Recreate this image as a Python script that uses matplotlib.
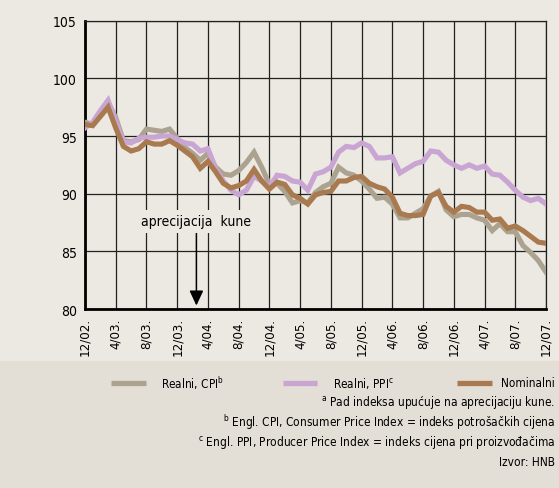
import numpy as np
import matplotlib.pyplot as plt
from matplotlib.lines import Line2D
from matplotlib.patches import Rectangle

# monthly index values, 12/2002 - 12/2007
nominal = [96.0, 95.9, 96.7, 97.5, 95.7, 94.1, 93.7, 93.9, 94.5, 94.3,
           94.3, 94.6, 94.2, 93.7, 93.2, 92.2, 92.8, 91.9, 90.9, 90.5,
           90.7, 91.1, 92.1, 91.1, 90.4, 91.0, 90.8, 89.9, 89.6, 89.1,
           89.9, 90.1, 90.2, 91.1, 91.1, 91.4, 91.5, 90.9, 90.6, 90.4,
           89.7, 88.3, 88.1, 88.1, 88.2, 89.8, 90.1, 88.9, 88.4, 88.9,
           88.8, 88.4, 88.4, 87.7, 87.8, 87.0, 87.2, 86.8, 86.3, 85.8,
           85.7]
real_cpi = [96.2, 96.0, 97.0, 97.9, 96.6, 94.6, 94.5, 94.7, 95.6, 95.5,
            95.4, 95.6, 94.8, 94.0, 93.5, 92.9, 93.5, 92.3, 91.7, 91.6,
            92.0, 92.7, 93.6, 92.3, 90.8, 90.9, 90.2, 89.2, 89.4, 89.2,
            90.1, 90.6, 90.9, 92.3, 91.8, 91.6, 91.1, 90.4, 89.6, 89.7,
            89.1, 87.9, 87.9, 88.3, 88.7, 89.8, 90.2, 88.6, 88.0, 88.2,
            88.2, 87.9, 87.7, 86.8, 87.4, 86.7, 86.7, 85.5, 84.9, 84.2,
            83.2]
real_ppi = [95.7, 96.2, 97.2, 98.1, 96.3, 94.5, 94.4, 94.8, 94.9, 94.9,
            95.0, 95.0, 94.7, 94.4, 94.3, 93.7, 93.9, 92.2, 91.1, 90.3,
            89.9, 90.3, 91.5, 91.1, 90.6, 91.6, 91.5, 91.1, 91.0, 90.3,
            91.7, 91.9, 92.3, 93.6, 94.1, 94.0, 94.4, 94.1, 93.1, 93.1,
            93.2, 91.8, 92.2, 92.6, 92.8, 93.7, 93.6, 92.9, 92.5, 92.2,
            92.5, 92.2, 92.4, 91.7, 91.6, 91.0, 90.3, 89.7, 89.4, 89.6,
            89.1]
tick_labels = ['12/02.', '4/03.', '8/03.', '12/03.', '4/04.', '8/04.',
               '12/04.', '4/05.', '8/05.', '12/05.', '4/06.', '8/06.',
               '12/06.', '4/07.', '8/07.', '12/07.']
series_names = ['Realni, CPI$^\\mathrm{b}$', 'Realni, PPI$^\\mathrm{c}$', 'Nominalni']

c_cpi = '#aca290'
c_ppi = '#c9a5d3'
c_nom = '#a97a4f'
bg = '#ece8e2'
band = '#e3ded6'

plt.rcParams['font.family'] = ['DejaVu Sans']
plt.rcParams['font.stretch'] = 'condensed'
plt.rcParams['mathtext.fontset'] = 'dejavusans'

W, H = 559, 489
fig = plt.figure(figsize=(W / 100, H / 100), dpi=100, facecolor=bg)


def fx(px):
    return px / W


def fy(py):
    return 1 - py / H


# darker band behind the legend and notes
fig.patches.append(Rectangle((0, 0), 1, fy(362), transform=fig.transFigure,
                             facecolor=band, edgecolor='none', zorder=0))

ax = fig.add_axes([fx(85), fy(310), fx(546) - fx(85), fy(21.7) - fy(310)])
ax.set_facecolor(bg)

months = np.arange(len(nominal))
lw = 3.7
ax.plot(months, real_cpi, color=c_cpi, lw=lw, solid_joinstyle='miter', zorder=3)
ax.plot(months, real_ppi, color=c_ppi, lw=lw, solid_joinstyle='miter', zorder=3)
ax.plot(months, nominal, color=c_nom, lw=lw, solid_joinstyle='miter', zorder=3)

ax.set_xlim(0, 60)
ax.set_ylim(80, 105)
ax.set_xticks(np.arange(0, 61, 4))
ax.set_xticklabels(tick_labels, rotation=90, fontsize=9.5)
ax.set_yticks(np.arange(80, 106, 5))
ax.set_yticklabels([str(v) for v in range(80, 106, 5)], fontsize=10)
ax.tick_params(length=0, pad=6)
ax.grid(True, color='#222222', lw=0.9)
ax.set_axisbelow(True)
for side in ['top', 'right']:
    ax.spines[side].set_linewidth(0.9)
    ax.spines[side].set_color('#222222')
for side in ['left', 'bottom']:
    ax.spines[side].set_linewidth(2)
    ax.spines[side].set_color('black')

# annotation
ax.annotate('', xy=(14.5, 80.3), xytext=(14.5, 86.7),
            arrowprops=dict(arrowstyle='-|>,head_length=0.9,head_width=0.42',
                            color='black', lw=1.1, shrinkA=0, shrinkB=0), zorder=4)
ax.text(14.5, 87.6, 'aprecijacija  kune', ha='center', va='center', fontsize=10,
        bbox=dict(facecolor=bg, edgecolor='none', pad=3), zorder=4)

# legend
leg_y = 384
for (x0, x1, tx, col, name) in [(111, 146, 161, c_cpi, series_names[0]),
                                 (283, 317, 333, c_ppi, series_names[1]),
                                 (457, 492, 501, c_nom, series_names[2])]:
    fig.add_artist(Line2D([fx(x0), fx(x1)], [fy(leg_y), fy(leg_y)],
                          transform=fig.transFigure, color=col, lw=3.8,
                          solid_capstyle='butt'))
    fig.text(fx(tx), fy(leg_y), name, ha='left', va='center', fontsize=8.5)

notes = ['$^\\mathrm{a}$ Pad indeksa upućuje na aprecijaciju kune.',
         '$^\\mathrm{b}$ Engl. CPI, Consumer Price Index = indeks potrošačkih cijena',
         '$^\\mathrm{c}$ Engl. PPI, Producer Price Index = indeks cijena pri proizvođačima',
         'Izvor: HNB']
for i, note in enumerate(notes):
    fig.text(fx(555), fy(403 + 20 * i), note, ha='right', va='center', fontsize=8.6)

fig.savefig('out.png', dpi=100, facecolor=bg)
